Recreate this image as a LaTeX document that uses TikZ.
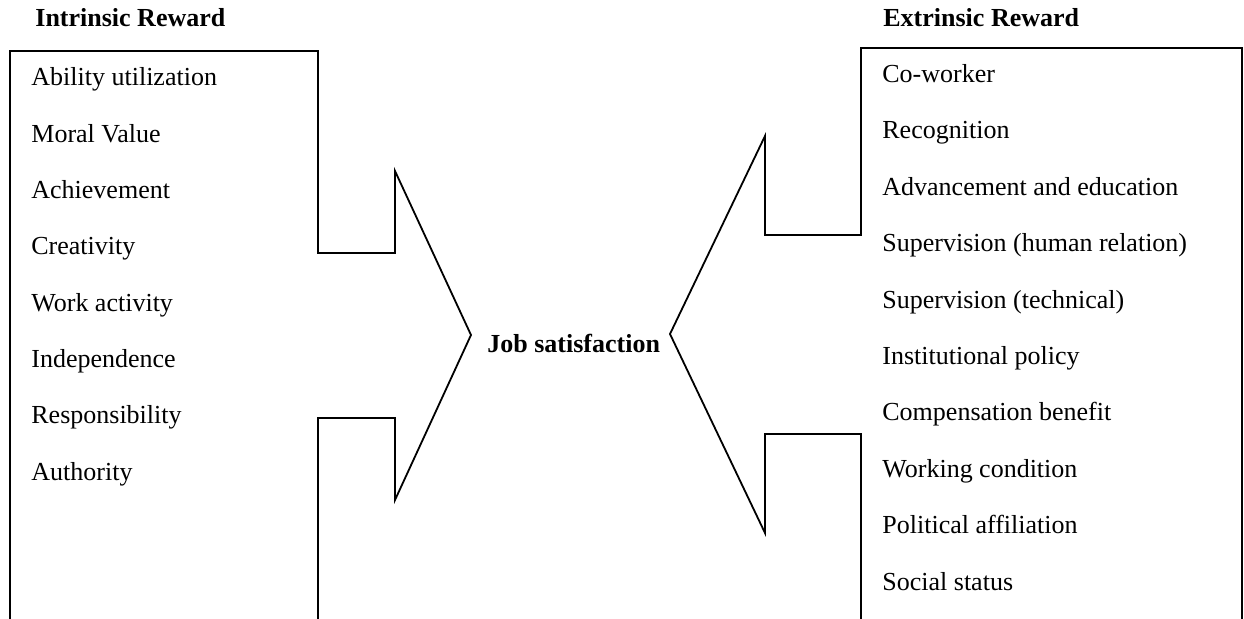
\documentclass[tikz,border=0pt]{standalone}
\usepackage{fontspec}
\setmainfont{Liberation Serif}
\usepackage{tikz}
\usetikzlibrary{positioning}

\begin{document}
\begin{tikzpicture}[
    x=0.5pt, y=-0.5pt,
    item/.style={anchor=base west, inner sep=0pt, font=\fontsize{13}{15}\selectfont},
    head/.style={item, font=\fontsize{13}{15}\selectfont\bfseries},
    outline/.style={draw, line width=0.9pt, line join=miter}
]
\useasboundingbox (0,0) rectangle (1244,619);

% Intrinsic side
\draw[outline] (10,619) -- (10,51) -- (318,51) -- (318,253) -- (395,253) -- (395,171)
    -- (471,335) -- (395,500) -- (395,418) -- (318,418) -- (318,619);
\node[head] (intr) at (35,27) {Intrinsic Reward};
\node[item] (ability) at (31,86) {Ability utilization};
\node[item] (moral) at (31,142.3) {Moral Value};
\node[item] (achieve) at (31,198.6) {Achievement};
\node[item] (creat) at (31,254.9) {Creativity};
\node[item] (workact) at (31,311.2) {Work activity};
\node[item] (indep) at (31,367.5) {Independence};
\node[item] (respons) at (31,423.8) {Responsibility};
\node[item] (author) at (31,480.1) {Authority};

% Job satisfaction
\node[head] (job) at (487,353) {Job satisfaction};

% Extrinsic side
\draw[outline] (1242,619) -- (1242,48) -- (861,48) -- (861,235) -- (765,235) -- (765,136)
    -- (670,334) -- (765,533) -- (765,434) -- (861,434) -- (861,619);
\node[head] (extr) at (883,27) {Extrinsic Reward};
\node[item] (cowork) at (882,82.5) {Co-worker};
\node[item] (recog) at (882,138.9) {Recognition};
\node[item] (advance) at (882,195.3) {Advancement and education};
\node[item] (suphum) at (882,251.7) {Supervision (human relation)};
\node[item] (suptech) at (882,308.1) {Supervision (technical)};
\node[item] (policy) at (882,364.5) {Institutional policy};
\node[item] (comp) at (882,420.9) {Compensation benefit};
\node[item] (workcond) at (882,477.3) {Working condition};
\node[item] (polit) at (882,533.7) {Political affiliation};
\node[item] (social) at (882,590.1) {Social status};

\end{tikzpicture}
\end{document}
